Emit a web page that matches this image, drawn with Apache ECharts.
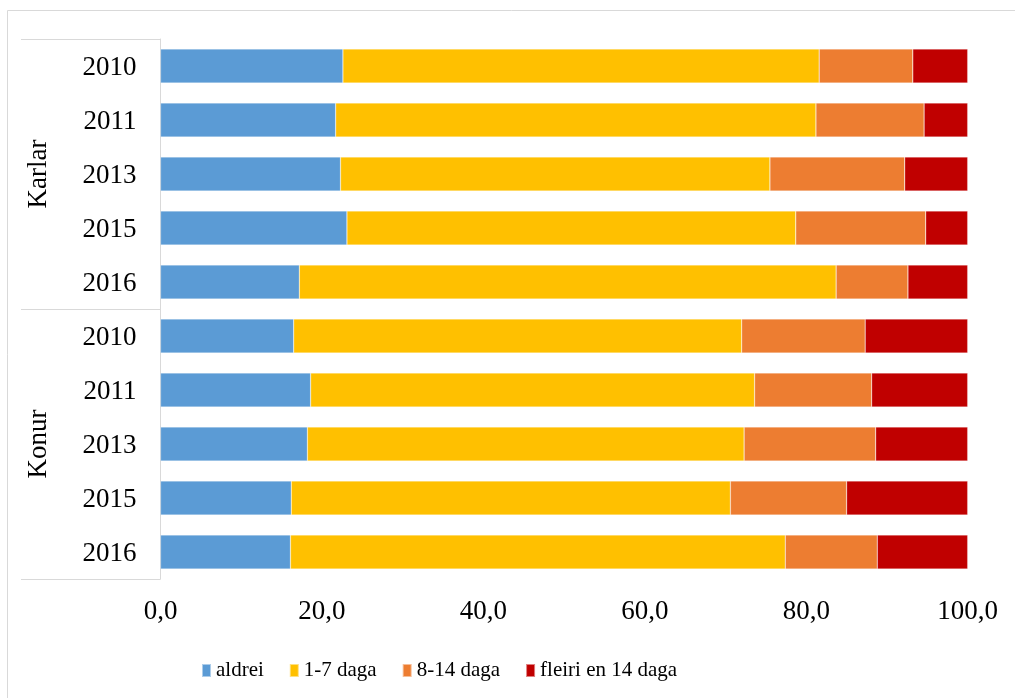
<!DOCTYPE html>
<html>
<head>
<meta charset="utf-8">
<script src="https://cdn.jsdelivr.net/npm/echarts@6/dist/echarts.min.js"></script>
<style>
  html, body { margin: 0; padding: 0; background: #fff; }
  #main { width: 1015px; height: 698px; }
</style>
</head>
<body>
<div id="main"></div>
<script>
var groups = ['Karlar', 'Konur'];
var years = ['2010', '2011', '2013', '2015', '2016', '2010', '2011', '2013', '2015', '2016'];
var seriesNames = ['aldrei', '1-7 daga', '8-14 daga', 'fleiri en 14 daga'];
var aldrei = [22.6, 21.7, 22.3, 23.1, 17.2, 16.5, 18.6, 18.2, 16.2, 16.1];
var daga1_7 = [59.0, 59.5, 53.2, 55.6, 66.5, 55.5, 55.0, 54.1, 54.4, 61.3];
var daga8_14 = [11.6, 13.4, 16.7, 16.1, 8.9, 15.3, 14.5, 16.3, 14.4, 11.4];
var fleiri = [6.8, 5.4, 7.8, 5.2, 7.4, 12.7, 11.9, 11.4, 15.0, 11.2];
var xTicks = [0, 20, 40, 60, 80, 100];

var colors = ['#5B9BD5', '#FFC000', '#ED7D31', '#C00000'];
var font = 'Liberation Serif';

var chart = echarts.init(document.getElementById('main'));

function bar(name, data) {
    return {
        name: name,
        type: 'bar',
        stack: 'total',
        barCategoryGap: '37%',
        data: data,
        itemStyle: { borderColor: 'rgba(255,255,255,0.5)', borderWidth: 0.5 }
    };
}

var option = {
    animation: false,
    color: colors,
    graphic: [{
        type: 'rect',
        shape: { x: 7.5, y: 10.5, width: 1020, height: 700 },
        style: { fill: 'none', stroke: '#d9d9d9', lineWidth: 1 },
        silent: true
    }],
    grid: { left: 160.5, right: 47.3, top: 39, bottom: 119 },
    legend: {
        data: seriesNames,
        left: 196,
        top: 655,
        itemWidth: 9,
        itemHeight: 13,
        itemGap: 25,
        icon: 'rect',
        textStyle: { fontFamily: font, fontSize: 21, color: '#000' }
    },
    xAxis: {
        type: 'value',
        min: 0,
        max: 100,
        interval: 20,
        axisLine: { show: false },
        axisTick: { show: false },
        splitLine: { show: false },
        axisLabel: {
            fontFamily: font,
            fontSize: 27,
            color: '#000',
            margin: 19,
            formatter: function (v) {
                return xTicks.indexOf(v) >= 0 ? v.toFixed(1).replace('.', ',') : '';
            }
        }
    },
    yAxis: [{
        type: 'category',
        data: years,
        inverse: true,
        axisLine: { show: true, lineStyle: { color: '#d9d9d9', width: 1 } },
        axisTick: { show: false },
        axisLabel: {
            margin: 24,
            formatter: function (v) { return '{y|' + v + '}'; },
            rich: { y: { fontFamily: font, fontSize: 27, color: '#000', padding: [4, 0, 0, 0] } }
        }
    }, {
        type: 'category',
        data: groups,
        inverse: true,
        position: 'left',
        offset: 139.5,
        axisLine: { show: false },
        axisTick: { show: true, inside: true, length: 139.5, lineStyle: { color: '#d9d9d9', width: 1 } },
        axisLabel: { inside: true, rotate: 90, fontFamily: font, fontSize: 27, color: '#000', margin: 4 }
    }],
    series: [
        bar(seriesNames[0], aldrei),
        bar(seriesNames[1], daga1_7),
        bar(seriesNames[2], daga8_14),
        bar(seriesNames[3], fleiri)
    ]
};
chart.setOption(option);
</script>
</body>
</html>
